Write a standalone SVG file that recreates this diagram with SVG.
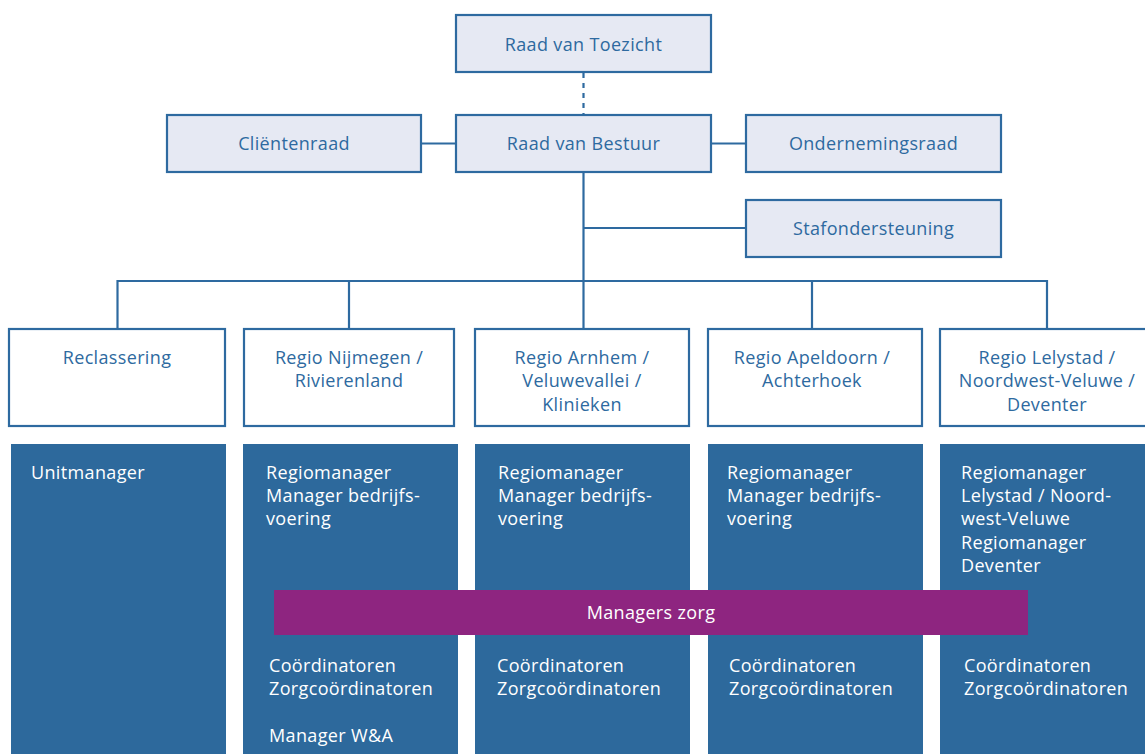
<svg xmlns="http://www.w3.org/2000/svg" width="1145" height="754" viewBox="0 0 1145 754">
<style>
.top{fill:#e6e9f3;stroke:#2e6aa0;stroke-width:2.2}
.reg{fill:#ffffff;stroke:#2e6aa0;stroke-width:2.2}
.blue{fill:#2d699c}
.purple{fill:#8e2580}
.ln{stroke:#2e6aa0;stroke-width:2.2;fill:none}
.t{font-family:"Open Sans","Liberation Sans",sans-serif;font-size:18px;letter-spacing:0.35px;fill:#2e6aa0;text-anchor:middle}
.w{font-family:"Open Sans","Liberation Sans",sans-serif;font-size:18px;letter-spacing:0.35px;fill:#ffffff}
</style>
<rect width="1145" height="754" fill="#ffffff"/>
<g id="connectors">
<line class="ln" x1="583.5" y1="73" x2="583.5" y2="114" stroke-dasharray="5,5"/>
<line class="ln" x1="421" y1="143.5" x2="456" y2="143.5"/>
<line class="ln" x1="711" y1="143.5" x2="746" y2="143.5"/>
<line class="ln" x1="583.5" y1="172" x2="583.5" y2="329"/>
<line class="ln" x1="583.5" y1="228" x2="746" y2="228"/>
<line class="ln" x1="117" y1="281" x2="1048" y2="281"/>
<line class="ln" x1="117.5" y1="280" x2="117.5" y2="329"/>
<line class="ln" x1="349" y1="281" x2="349" y2="329"/>
<line class="ln" x1="812" y1="281" x2="812" y2="329"/>
<line class="ln" x1="1047" y1="280" x2="1047" y2="329"/>
</g>
<g id="raad-van-toezicht"><rect class="top" x="456" y="15" width="255" height="57"/><text class="t" x="583.5" y="51">Raad van Toezicht</text></g>
<g id="clientenraad"><rect class="top" x="167" y="115" width="254" height="57"/><text class="t" x="294" y="150">Cliëntenraad</text></g>
<g id="raad-van-bestuur"><rect class="top" x="456" y="115" width="255" height="57"/><text class="t" x="583.5" y="150">Raad van Bestuur</text></g>
<g id="ondernemingsraad"><rect class="top" x="746" y="115" width="255" height="57"/><text class="t" x="873.5" y="150">Ondernemingsraad</text></g>
<g id="stafondersteuning"><rect class="top" x="746" y="200" width="255" height="57"/><text class="t" x="873.5" y="235">Stafondersteuning</text></g>
<g id="reclassering"><rect class="reg" x="9" y="329" width="216" height="97"/><text class="t" x="117" y="364">Reclassering</text></g>
<g id="regio-nijmegen"><rect class="reg" x="244" y="329" width="210" height="97"/><text class="t" x="349" y="364">Regio Nijmegen /</text><text class="t" x="349" y="387">Rivierenland</text></g>
<g id="regio-arnhem"><rect class="reg" x="475" y="329" width="214" height="97"/><text class="t" x="582" y="364">Regio Arnhem /</text><text class="t" x="582" y="387">Veluwevallei /</text><text class="t" x="582" y="411">Klinieken</text></g>
<g id="regio-apeldoorn"><rect class="reg" x="708" y="329" width="214" height="97"/><text class="t" x="812" y="364">Regio Apeldoorn /</text><text class="t" x="812" y="387">Achterhoek</text></g>
<g id="regio-lelystad"><rect class="reg" x="940" y="329" width="215" height="97"/><text class="t" x="1047" y="364">Regio Lelystad /</text><text class="t" x="1047" y="387">Noordwest-Veluwe /</text><text class="t" x="1047" y="411">Deventer</text></g>
<g id="blok-reclassering"><rect class="blue" x="11" y="444" width="215" height="310"/><text class="w" x="31" y="479">Unitmanager</text></g>
<g id="blok-nijmegen"><rect class="blue" x="243" y="444" width="215" height="310"/><text class="w" x="266" y="479">Regiomanager</text><text class="w" x="266" y="502">Manager bedrijfs-</text><text class="w" x="266" y="525">voering</text><text class="w" x="269" y="672">Coördinatoren</text><text class="w" x="269" y="695">Zorgcoördinatoren</text><text class="w" x="269" y="742">Manager W&amp;A</text></g>
<g id="blok-arnhem"><rect class="blue" x="475" y="444" width="215" height="310"/><text class="w" x="498" y="479">Regiomanager</text><text class="w" x="498" y="502">Manager bedrijfs-</text><text class="w" x="498" y="525">voering</text><text class="w" x="497" y="672">Coördinatoren</text><text class="w" x="497" y="695">Zorgcoördinatoren</text></g>
<g id="blok-apeldoorn"><rect class="blue" x="708" y="444" width="215" height="310"/><text class="w" x="727" y="479">Regiomanager</text><text class="w" x="727" y="502">Manager bedrijfs-</text><text class="w" x="727" y="525">voering</text><text class="w" x="729" y="672">Coördinatoren</text><text class="w" x="729" y="695">Zorgcoördinatoren</text></g>
<g id="blok-lelystad"><rect class="blue" x="940" y="444" width="215" height="310"/><text class="w" x="961" y="479">Regiomanager</text><text class="w" x="961" y="502">Lelystad / Noord-</text><text class="w" x="961" y="525">west-Veluwe</text><text class="w" x="961" y="549">Regiomanager</text><text class="w" x="961" y="572">Deventer</text><text class="w" x="964" y="672">Coördinatoren</text><text class="w" x="964" y="695">Zorgcoördinatoren</text></g>
<g id="managers-zorg"><rect class="purple" x="274" y="590" width="754" height="45"/><text class="w" x="651" y="619" text-anchor="middle">Managers zorg</text></g>
</svg>
